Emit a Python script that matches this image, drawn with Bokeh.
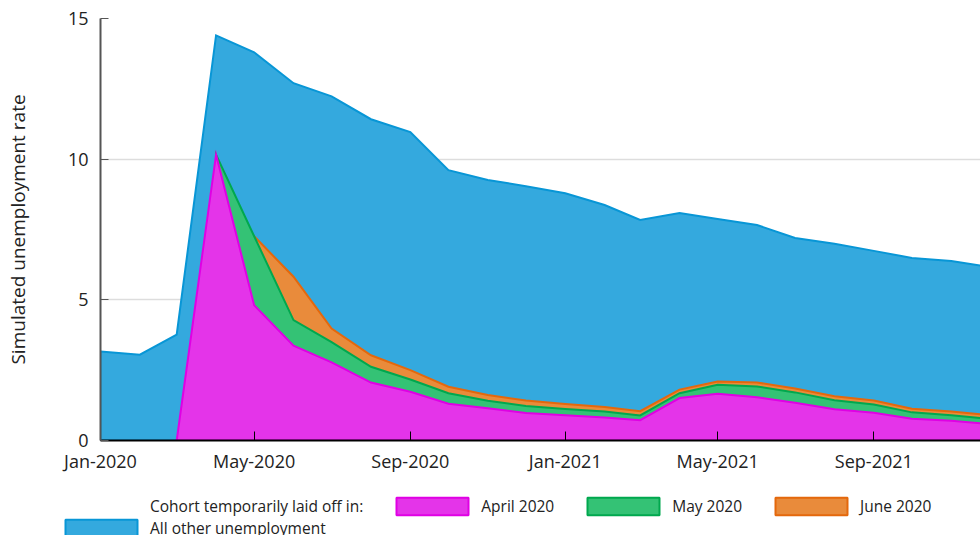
import pandas as pd
from bokeh.plotting import figure
from bokeh.layouts import column, row
from bokeh.models import Legend, LegendItem, FixedTicker, Range1d, DatetimeTickFormatter
from bokeh.embed import file_html
from bokeh.resources import INLINE

# ---- data ----
months = ["2020-01", "2020-02", "2020-03", "2020-04", "2020-05", "2020-06",
          "2020-07", "2020-08", "2020-09", "2020-10", "2020-11", "2020-12",
          "2021-01", "2021-02", "2021-03", "2021-04", "2021-05", "2021-06",
          "2021-07", "2021-08", "2021-09", "2021-10", "2021-11", "2021-12"]

# cohort temporarily laid off in April 2020
april_2020 = [None, None, 0.0, 10.16, 4.81, 3.37, 2.78, 2.06, 1.73, 1.31, 1.15, 0.98,
              0.90, 0.82, 0.72, 1.51, 1.66, 1.54, 1.34, 1.11, 0.99, 0.77, 0.70, 0.59]
# cohort temporarily laid off in May 2020
may_2020 = [None, None, None, 0.0, 2.45, 0.91, 0.72, 0.56, 0.44, 0.37, 0.26, 0.25,
            0.22, 0.21, 0.17, 0.17, 0.32, 0.38, 0.37, 0.32, 0.29, 0.23, 0.20, 0.18]
# cohort temporarily laid off in June 2020
june_2020 = [None, None, None, None, 0.0, 1.54, 0.48, 0.41, 0.33, 0.23, 0.21, 0.19,
             0.18, 0.16, 0.15, 0.13, 0.12, 0.14, 0.14, 0.14, 0.14, 0.13, 0.13, 0.13]
# all other unemployment
other = [3.16, 3.05, 3.76, 4.24, 6.54, 6.88, 8.25, 8.39, 8.46, 7.70, 7.64, 7.62,
         7.49, 7.18, 6.80, 6.28, 5.77, 5.60, 5.35, 5.42, 5.32, 5.36, 5.35, 5.27]

x_ticks = ["2020-01", "2020-05", "2020-09", "2021-01", "2021-05", "2021-09"]
x_tick_labels = ["Jan-2020", "May-2020", "Sep-2020", "Jan-2021", "May-2021", "Sep-2021"]
y_ticks = [0, 5, 10, 15]
x_start, x_end = "2020-01-01", "2021-11-24"

legend_title = "Cohort temporarily laid off in:"
series_labels = ["April 2020", "May 2020", "June 2020", "All other unemployment"]
fill_colors = ["#e434e9", "#34c275", "#e98b3b", "#34a9de"]
line_colors = ["#e000e4", "#00a84e", "#e4680c", "#0896d6"]

FONT = "Open Sans"

# ---- stacking ----
dates = [pd.Timestamp(m + "-01") for m in months]
n = len(dates)
def z(v):
    return 0.0 if v is None else v
c1 = [z(a) for a in april_2020]
c2 = [c1[i] + z(may_2020[i]) for i in range(n)]
c3 = [c2[i] + z(june_2020[i]) for i in range(n)]
tot = [c3[i] + other[i] for i in range(n)]

def first_idx(series):
    for i, v in enumerate(series):
        if v is not None:
            return i
    return 0

def polygon(top, start):
    xs = dates[start:] + [dates[-1], dates[start]]
    ys = top[start:] + [0.0, 0.0]
    return xs, ys

p = figure(width=980, height=475, x_axis_type="datetime",
           x_range=Range1d(pd.Timestamp(x_start), pd.Timestamp(x_end)),
           y_range=Range1d(0, 15),
           output_backend="svg", toolbar_location=None,
           min_border_left=100, min_border_right=0, min_border_top=18, min_border_bottom=33)
p.outline_line_color = None
p.background_fill_color = "white"

layers = [
    (tot, 0, 3),
    (c3, first_idx(june_2020), 2),
    (c2, first_idx(may_2020), 1),
    (c1, first_idx(april_2020), 0),
]
polys = {}
for top, s, ci in layers:
    xs, ys = polygon(top, s)
    polys[ci] = (xs, ys)
    p.patch(xs, ys, fill_color=fill_colors[ci], line_color=line_colors[ci],
            line_width=2, line_join="miter")

# axes
p.xgrid.grid_line_color = None
p.ygrid.grid_line_color = "#dddddd"
p.ygrid.grid_line_width = 1.5
p.ygrid.ticker = FixedTicker(ticks=y_ticks)

p.yaxis.ticker = FixedTicker(ticks=y_ticks)
p.yaxis.minor_tick_line_color = None
p.yaxis.major_tick_in = 8
p.yaxis.major_tick_out = 0
p.yaxis.axis_line_color = "#555555"
p.yaxis.axis_line_width = 2
p.yaxis.major_tick_line_color = "#555555"
p.yaxis.axis_label = "Simulated unemployment rate"
p.yaxis.axis_label_text_font = FONT
p.yaxis.axis_label_text_font_size = "19px"
p.yaxis.axis_label_text_font_style = "normal"
p.yaxis.axis_label_text_color = "#222222"
p.yaxis.axis_label_standoff = 34
p.yaxis.major_label_text_font = FONT
p.yaxis.major_label_text_font_size = "18px"
p.yaxis.major_label_text_color = "#222222"
p.yaxis.major_label_standoff = 12

xt = [pd.Timestamp(t + "-01").value / 1e6 for t in x_ticks]
p.xaxis.ticker = FixedTicker(ticks=xt)
p.xaxis.formatter = DatetimeTickFormatter(months="%b-%Y", days="%b-%Y")
p.xaxis.major_label_overrides = {t: lab for t, lab in zip(xt, x_tick_labels)}
p.xaxis.minor_tick_line_color = None
p.xaxis.major_tick_in = 9
p.xaxis.major_tick_out = 0
p.xaxis.axis_line_color = "black"
p.xaxis.axis_line_width = 2
p.xaxis.major_tick_line_color = "black"
p.xaxis.major_label_text_font = FONT
p.xaxis.major_label_text_font_size = "18px"
p.xaxis.major_label_text_color = "#222222"
p.xaxis.major_label_standoff = 8

# ---- legend strip below the plot (its ranges keep the proxy glyphs out of view) ----
lg = figure(width=980, height=60, output_backend="svg", toolbar_location=None,
            x_axis_type="datetime",
            x_range=Range1d(pd.Timestamp(x_start), pd.Timestamp(x_end)),
            y_range=Range1d(100, 101),
            x_axis_location=None, y_axis_location=None,
            min_border_left=0, min_border_right=0, min_border_top=0, min_border_bottom=0)
lg.outline_line_color = None
lg.grid.visible = False

dummy = lg.patch(*polys[3], fill_alpha=0, line_alpha=0)
swatch = [lg.patch(*polys[i], fill_color=fill_colors[i], line_color=line_colors[i], line_width=2)
          for i in range(4)]

common = dict(orientation="horizontal", padding=0, margin=0, spacing=24,
              glyph_width=90, glyph_height=22, label_height=22, label_standoff=4,
              label_text_font=FONT, label_text_font_size="15.5px", label_text_color="#222222",
              border_line_alpha=0, background_fill_alpha=0)
legend1 = Legend(items=[LegendItem(label=legend_title, renderers=[dummy]),
                        LegendItem(label=series_labels[0], renderers=[swatch[0]]),
                        LegendItem(label=series_labels[1], renderers=[swatch[1]]),
                        LegendItem(label=series_labels[2], renderers=[swatch[2]])],
                 location=(56, 18), **common)
legend2 = Legend(items=[LegendItem(label=series_labels[3], renderers=[swatch[3]])],
                 location=(56, -4), **common)
lg.add_layout(legend1, "center")
lg.add_layout(legend2, "center")

layout = column(p, row(lg, spacing=0), spacing=0)
open("out.html", "w").write(file_html(layout, INLINE))
